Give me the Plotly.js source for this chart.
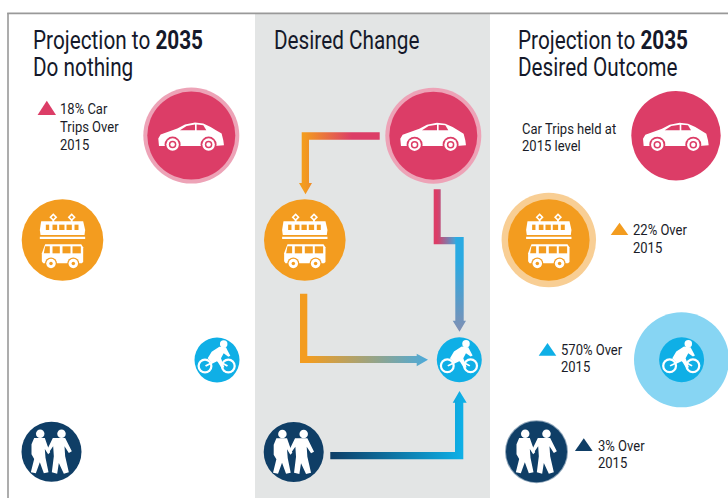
<!DOCTYPE html>
<html><head><meta charset="utf-8">
<script src="https://cdn.plot.ly/plotly-3.0.1.min.js"></script>
<style>html,body{margin:0;padding:0;background:#fff}#c{width:728px;height:498px}</style>
</head><body><div id="c"></div>
<script>
var PINK='#DC3D67',ORANGE='#F39C1F',BLUE='#0FAFE6',NAVY='#0F3E66';
var FONT='Roboto,sans-serif';

var ringX=[191.3,433.3,548.8,681.5,536.5];
var ringY=[135.6,135.7,240,359.8,451.7];
var ringD=[96,96,94.5,95,63];
var ringC=['#EDA3B7','#EDA3B7','#F8CE94','#87D5F3','#8FA6BA'];

var carX=[191.3,433.3,676], carY=[135.6,135.7,135.7], carD=[88,88,89.4];
var transitX=[62.5,304.8,548.8], transitY=[240,240,240], transitD=[81.6,81.6,81.6];
var bikeX=[217,459.3,681.6], bikeY=[360,359.8,359.8], bikeD=[45,45,45];
var walkX=[51.5,293.7,536.5], walkY=[451.7,452,451.7], walkD=[60,60,61];

var carBody=[[-97,31],[-99,9],[-92,-3],[-69,-11],[-42,-21],[-19,-33],[11,-39],[36,-36],[58,-26],[74,-16],[91,-6],[96,14],[98,29],[70,31],[-60,31]];
var carWin1=[[-34,-16],[-14,-29],[11,-33],[11,-16]];
var carWin2=[[16,-33],[36,-31],[45,-16],[16,-16]];
var carWheelDX=[-18.7,17.3], carWheelDY=[9,9];

var tramBody=[[-64,-56],[62,-56],[68,-30],[66,-15],[-66,-15],[-68,-30]];
var rail=[[-68,-10],[68,-10],[68,-3],[-68,-3]];
var tramWinX=[[-50,-40],[-30,-16],[-10,6],[12,28],[36,48]];
var tramWinY=[-46,-30];
var diamond=[[0,-12],[12,0],[0,12],[-12,0]];
var diamondDX=[-9.2,9.2], diamondDY=[-22.7,-22.7];
var stemL=[[-30,-60],[-25,-60],[-25,-48],[-30,-48]], stemR=[[25,-60],[30,-60],[30,-48],[25,-48]];
var busBody=[[-52,13],[56,13],[62,22],[62,66],[58,70],[-58,70],[-62,64],[-62,40]];
var busWinX=[[-30,-8],[0,24],[30,55]];
var busWinY=[19,40];
var busFront=[[-52,19],[-38,19],[-38,40],[-56,40]];
var busWheelDX=[-11.5,10.8], busWheelDY=[23.5,23.5];

var rider=[[-28,-5],[-16,-25],[7,-40],[27,-38],[32,-28],[40,-13],[34,-10],[20,-20],[12,-5],[22,22],[14,25],[0,2],[-16,8]];
var bikeWheelDX=[-12,11.3], bikeWheelDY=[6,6];
var bikeFrame=[[-36,16],[0,-2],[33,16],[30,20],[0,4],[-33,20]];
var bikeHeadDX=[6.7], bikeHeadDY=[-16];

var personL=[[-52,-41],[-20,-41],[-12,-18],[-4,2],[-10,8],[-20,-8],[-18,18],[-9,62],[-23,65],[-35,32],[-47,65],[-62,62],[-52,22],[-60,8],[-60,-22]];
var personR=[[4,-41],[41,-41],[61,-1],[52,4],[39,-16],[41,14],[52,62],[37,66],[22,34],[17,66],[1,62],[7,14],[5,-16],[-9,4],[-15,-2]];
var headDX=[-11.3,10], headDY=[-18,-18];

var conn1=[[379.7,132.3],[301.7,132.3],[301.7,183],[299,183],[305.5,194.3],[312,183],[309,183],[309,139.7],[379.7,139.7]];
var conn2a=[[433.7,189.3],[440.7,189.3],[440.7,237],[456,237],[456,244.3],[433.7,244.3]];
var conn2b=[[455.3,237],[463.7,237],[463.7,320.7],[466,320.7],[459.5,331.7],[452.7,320.7],[455.3,320.7]];
var conn3=[[300,293.7],[307.3,293.7],[307.3,356],[416.7,356],[416.7,353.7],[428,359.7],[416.7,366.3],[416.7,363],[300,363]];
var conn4=[[330.3,452],[455,452],[455,402.7],[452.7,402.7],[459.5,391],[466.7,402.7],[463.3,402.7],[463.3,459.3],[330.3,459.3]];

var triX=[46.8,619.5,547.5,583.8], triY=[115,235,355.7,451], triC=[PINK,ORANGE,BLUE,NAVY];
var triW=[18.4,17.6,17.6,17.7], triH=[14.3,12.3,12.7,12.7];

var headText=['Projection to <b>2035</b>','Do nothing','Desired Change','Projection to <b>2035</b>','Desired Outcome'];
var headX=[31,31,272,516,516], headY=[40,67,40,40,67];
var noteText=['18% Car','Trips Over','2015','Car Trips held at','2015 level','22% Over','2015','570% Over','2015','3% Over','2015'];
var noteX=[58,58,58,520,520,631,631,559,559,596,596];
var noteY=[109,127,145,129,146,230,248,350,367,446,463];
var headSqueeze=0.83, noteSqueeze=0.93;

var traces=[];
function poly(pts,cx,cy,col,k){
  var x=[],y=[];pts.forEach(function(p){x.push(cx+p[0]/k);y.push(cy+p[1]/k);});
  x.push(x[0]);y.push(y[0]);
  traces.push({x:x,y:y,mode:'lines',line:{width:0,color:col},fill:'toself',fillcolor:col,hoverinfo:'skip'});
}
function dots(xs,ys,d,col){
  traces.push({x:xs,y:ys,mode:'markers',marker:{size:d,color:col,line:{width:0}},hoverinfo:'skip'});
}
function grad(pts,type,c0,c1,a,b){
  var x=pts.map(function(p){return p[0]}),y=pts.map(function(p){return p[1]});
  x.push(x[0]);y.push(y[0]);
  traces.push({x:x,y:y,mode:'lines',line:{width:0,color:c0},fill:'toself',
    fillgradient:{type:type,colorscale:[[0,c0],[1,c1]],start:a,stop:b},hoverinfo:'skip'});
}

grad(conn1,'horizontal',ORANGE,PINK,304,352);
grad(conn2a,'horizontal',PINK,'#3FA7DA',437,456);
grad(conn2b,'vertical','#2AAAE2','#7E90B5',262,330);
grad(conn3,'horizontal',ORANGE,'#4BAADB',307,428);
grad(conn4,'horizontal',NAVY,BLUE,330,462);

ringX.forEach(function(_,i){ dots([ringX[i]],[ringY[i]],ringD[i],ringC[i]); });

carX.forEach(function(cx,i){
  var cy=carY[i];
  dots([cx],[cy],carD[i],PINK);
  poly(carBody,cx,cy,'#fff',3);
  poly(carWin1,cx,cy,PINK,3);poly(carWin2,cx,cy,PINK,3);
  var wx=carWheelDX.map(function(d){return cx+d}),wy=carWheelDY.map(function(d){return cy+d});
  dots(wx,wy,16,PINK);dots(wx,wy,12.5,'#fff');dots(wx,wy,7.5,PINK);dots(wx,wy,4.5,'#fff');
});
transitX.forEach(function(cx,i){
  var cy=transitY[i];
  dots([cx],[cy],transitD[i],ORANGE);
  diamondDX.forEach(function(d,j){poly(diamond,cx+d,cy+diamondDY[j],'#fff',3);poly(diamond.map(function(p){return [p[0]*.45,p[1]*.45]}),cx+d,cy+diamondDY[j],ORANGE,3);});
  poly(stemL,cx,cy,'#fff',3);poly(stemR,cx,cy,'#fff',3);
  poly(tramBody,cx,cy,'#fff',3);
  tramWinX.forEach(function(w){poly([[w[0],tramWinY[0]],[w[1],tramWinY[0]],[w[1],tramWinY[1]],[w[0],tramWinY[1]]],cx,cy,ORANGE,3);});
  poly(rail,cx,cy,'#fff',3);
  poly(busBody,cx,cy,'#fff',3);
  poly(busFront,cx,cy,ORANGE,3);
  busWinX.forEach(function(w){poly([[w[0],busWinY[0]],[w[1],busWinY[0]],[w[1],busWinY[1]],[w[0],busWinY[1]]],cx,cy,ORANGE,3);});
  var wx=busWheelDX.map(function(d){return cx+d}),wy=busWheelDY.map(function(d){return cy+d});
  dots(wx,wy,12,ORANGE);dots(wx,wy,9.5,'#fff');dots(wx,wy,3.5,ORANGE);
});
bikeX.forEach(function(cx,i){
  var cy=bikeY[i];
  dots([cx],[cy],bikeD[i],BLUE);
  var wx=bikeWheelDX.map(function(d){return cx+d}),wy=bikeWheelDY.map(function(d){return cy+d});
  dots(wx,wy,15,'#fff');dots(wx,wy,10.5,BLUE);
  poly(bikeFrame,cx,cy,'#fff',3);
  poly(rider,cx,cy,'#fff',3);
  dots([cx+bikeHeadDX[0]],[cy+bikeHeadDY[0]],7.5,'#fff');
});
walkX.forEach(function(cx,i){
  var cy=walkY[i];
  dots([cx],[cy],walkD[i],NAVY);
  poly(personL,cx,cy,'#fff',3);poly(personR,cx,cy,'#fff',3);
  dots(headDX.map(function(d){return cx+d}),headDY.map(function(d){return cy+d}),8.5,'#fff');
});
triX.forEach(function(x,i){
  var w=triW[i]/2,h=triH[i];
  traces.push({x:[x-w,x+w,x,x-w],y:[triY[i],triY[i],triY[i]-h,triY[i]],mode:'lines',line:{width:0,color:triC[i]},fill:'toself',fillcolor:triC[i],hoverinfo:'skip'});
});

var ann=[];
headText.forEach(function(t,i){ann.push({text:t,x:headX[i],y:headY[i],xanchor:'left',yanchor:'middle',showarrow:false,font:{family:FONT,size:25,color:'#15192a'}});});
noteText.forEach(function(t,i){ann.push({text:t,x:noteX[i],y:noteY[i],xanchor:'left',yanchor:'middle',showarrow:false,font:{family:FONT,size:14,color:'#1a1c28'}});});

var layout={width:728,height:498,margin:{l:0,r:0,t:0,b:0},showlegend:false,hovermode:false,
  paper_bgcolor:'#fff',plot_bgcolor:'#fff',
  xaxis:{range:[0,728],visible:false,fixedrange:true},
  yaxis:{range:[498,0],visible:false,fixedrange:true},
  annotations:ann,
  shapes:[
    {type:'rect',layer:'below',x0:255,x1:490,y0:14,y1:498,fillcolor:'#E3E5E5',line:{width:0}},
    {type:'line',layer:'below',x0:8,x1:8,y0:13,y1:498,line:{color:'#999',width:1.6}},
    {type:'line',layer:'below',x0:7.2,x1:728,y0:13.4,y1:13.4,line:{color:'#999',width:1.6}}
  ]};
Plotly.newPlot('c',traces,layout,{displayModeBar:false,staticPlot:true}).then(function(gd){
  /* The reference face is condensed; no condensed font is installed, so narrow the real text. */
  var els=gd.querySelectorAll('.annotation-text');
  els.forEach(function(el,i){
    var s=i<headText.length?headSqueeze:noteSqueeze, b=el.getBBox();
    el.setAttribute('transform','translate('+b.x+',0) scale('+s+',1) translate('+(-b.x)+',0)');
  });
});
</script></body></html>
